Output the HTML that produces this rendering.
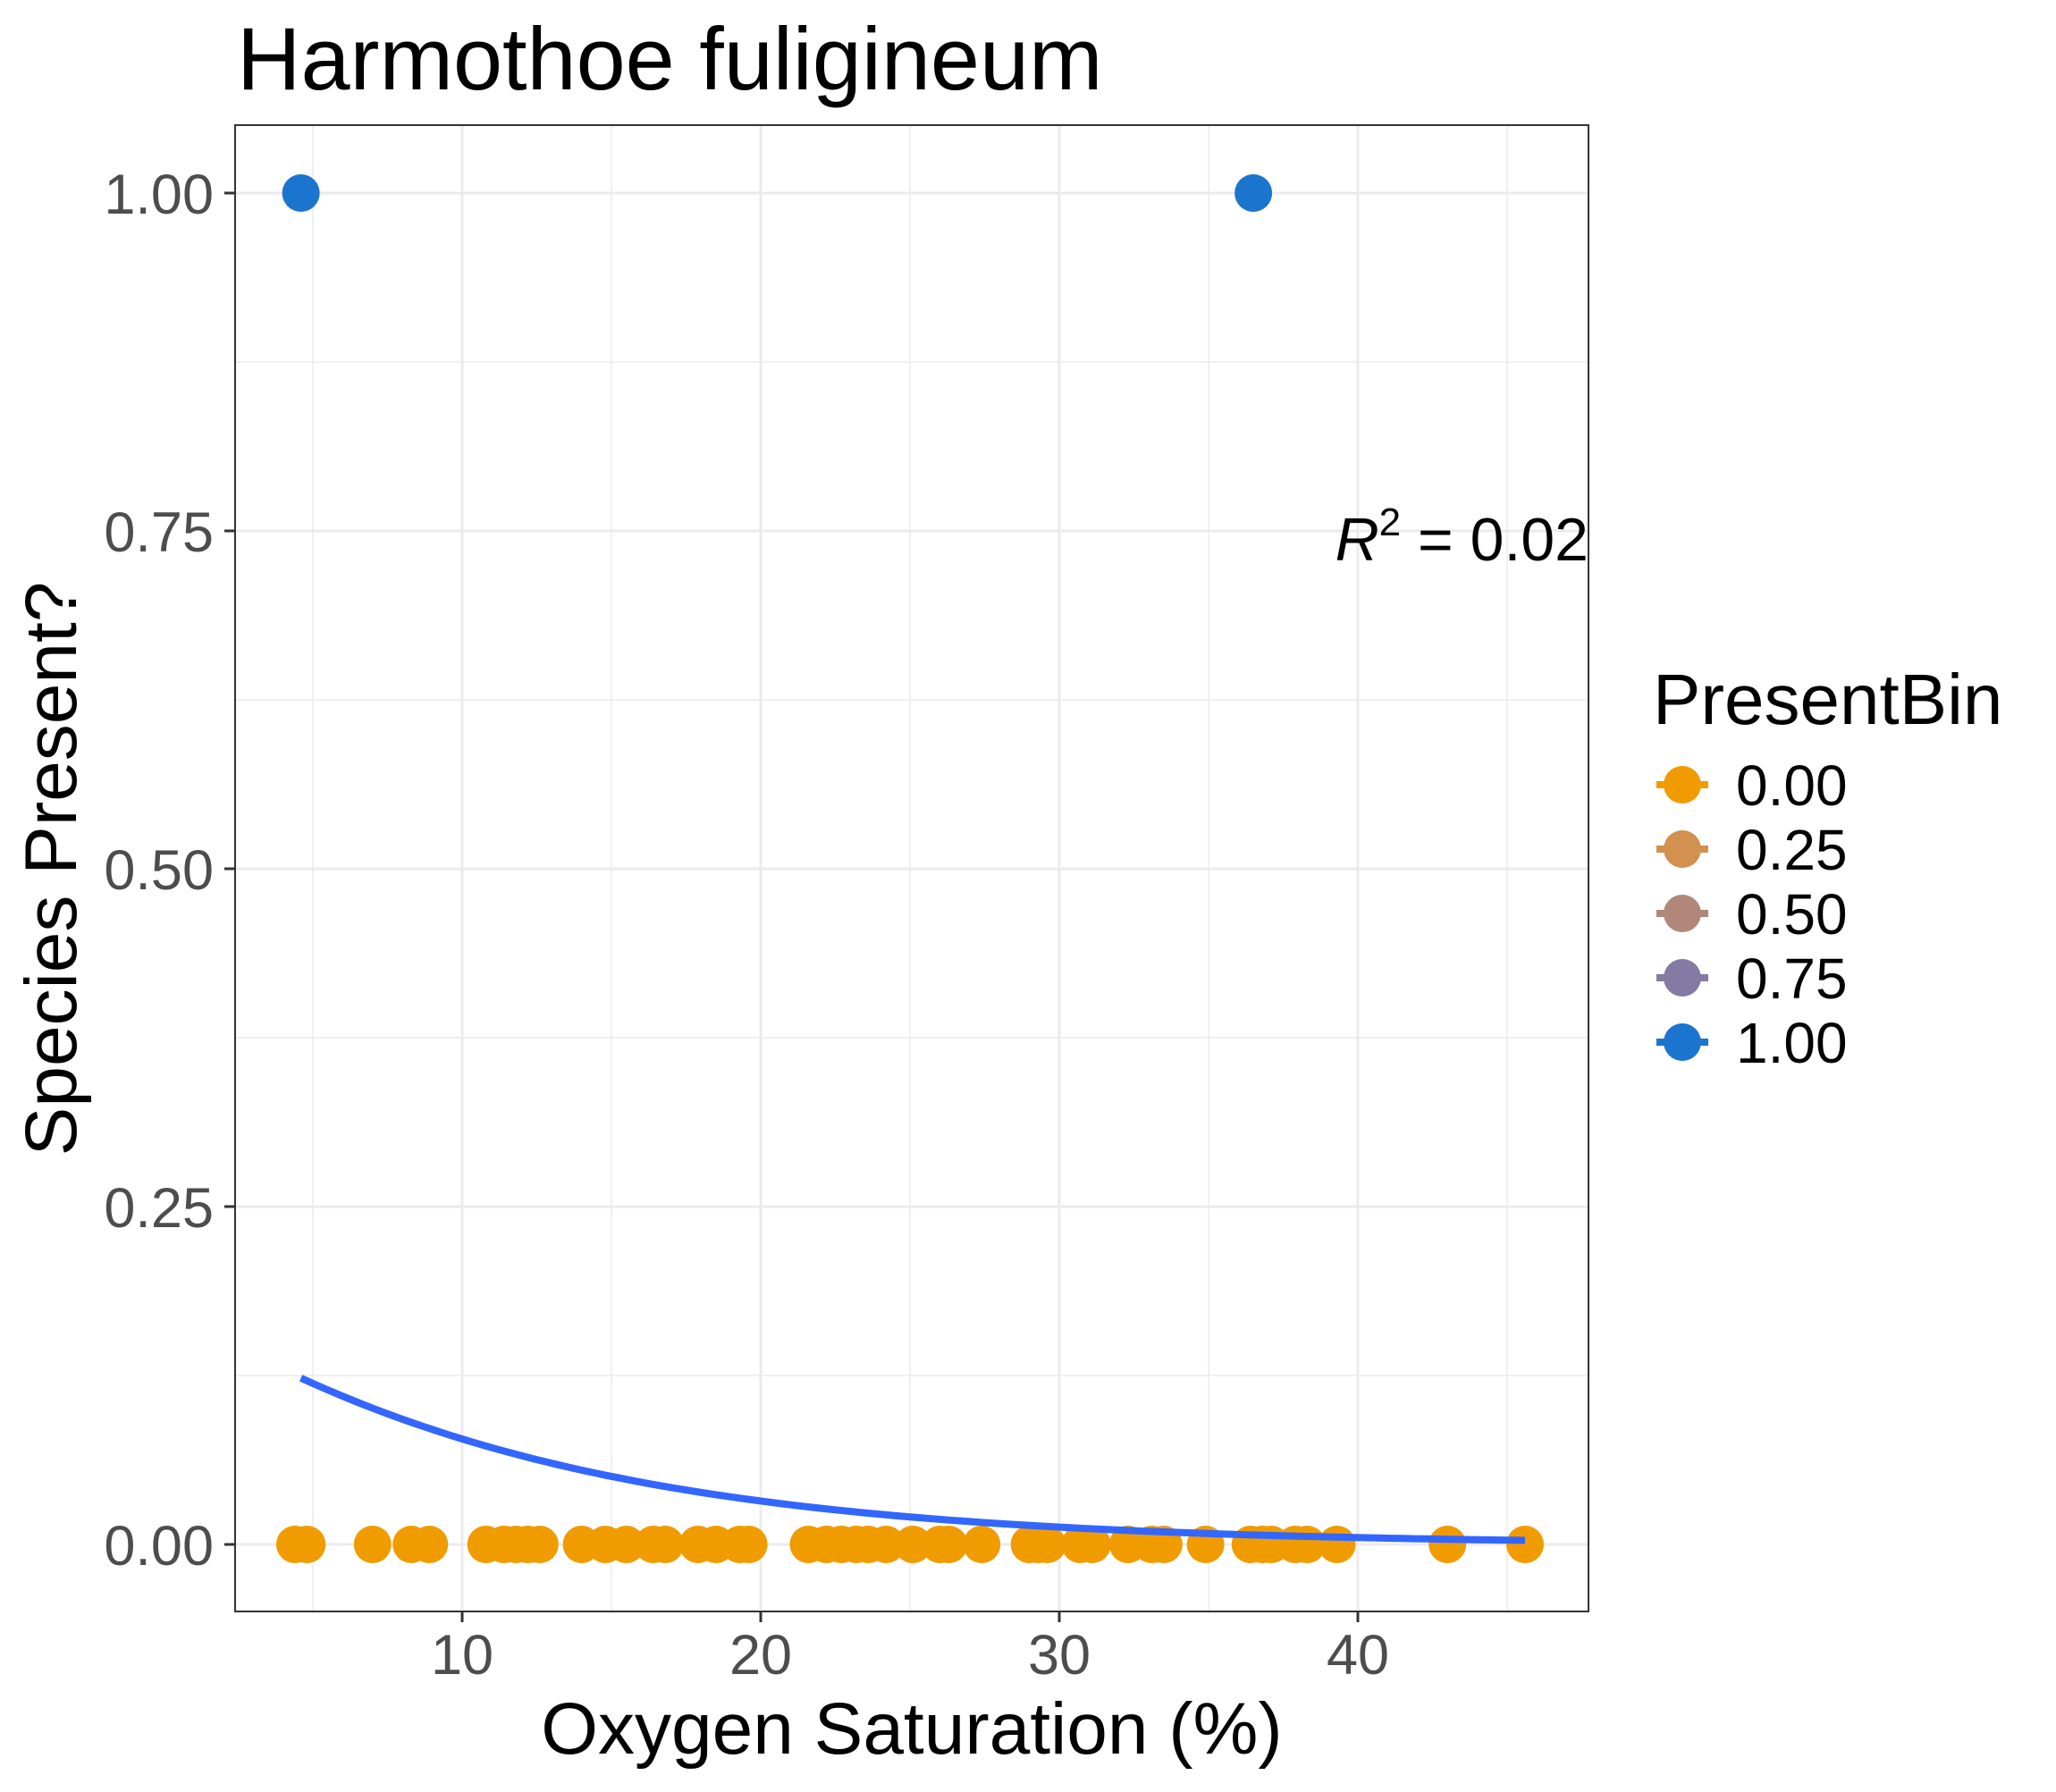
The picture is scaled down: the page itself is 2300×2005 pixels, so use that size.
<!DOCTYPE html>
<html><head><meta charset="utf-8"><style>
html,body{margin:0;padding:0;background:#fff;}
svg text{font-family:"Liberation Sans",Arial,sans-serif;}
</style></head><body>
<svg id="chart" width="2300" height="2000" viewBox="0 0 2300 2000" xmlns="http://www.w3.org/2000/svg">
<rect width="2300" height="2000" fill="#fff"/>
<text x="265" y="100" font-size="99" fill="#000">Harmothoe fuligineum</text>
<g id="grid"></g>
<g id="marks"></g>
<rect x="263" y="140" width="1514" height="1663" fill="none" stroke="#333" stroke-width="2"/>
<g id="axes"></g>
<text x="1777" y="627" font-size="68" text-anchor="end" fill="#000"><tspan font-style="italic">R</tspan><tspan font-size="44" dy="-28">2</tspan><tspan dy="28"> = 0.02</tspan></text>
<text x="1020" y="1962" font-size="82" text-anchor="middle" fill="#000">Oxygen Saturation (%)</text>
<text transform="translate(85,972) rotate(-90)" font-size="82" text-anchor="middle" fill="#000">Species Present?</text>
<g id="legend"></g>
</svg>
<script>
const xTicks = [10, 20, 30, 40];
const xMinor = [5, 15, 25, 35, 45];
const yTicks = [0, 0.25, 0.5, 0.75, 1];
const yTickLabels = ["0.00", "0.25", "0.50", "0.75", "1.00"];
const yMinor = [0.125, 0.375, 0.625, 0.875];
const absentX = [4.4,4.8,7.0,8.3,8.9,10.8,11.4,11.8,12.2,12.6,14.0,14.8,15.5,16.4,16.8,17.9,18.5,19.3,19.6,21.6,22.2,22.7,23.2,23.6,24.2,25.1,26.0,26.3,27.4,29.0,29.3,29.6,30.7,31.1,32.3,33.1,33.5,34.9,36.4,36.8,37.1,37.9,38.3,39.3,43.0,45.6];
const presentX = [4.6, 36.5];
const fitIntercept = [-1.532];
const fitSlope = [-0.0937];
const fitRange = [4.6, 45.6];
const legendLabels = ["0.00","0.25","0.50","0.75","1.00"];
const legendColors = ["#F09C00","#D2914F","#B1877A","#837BA3","#1B75CF"];

const NS = "http://www.w3.org/2000/svg";
const X = v => 517 + (v - 10) * 33.4;
const Y = v => 1728 - v * 1512;
function mk(tag, attrs, parent){const e=document.createElementNS(NS,tag);for(const k in attrs)e.setAttribute(k,attrs[k]);parent.appendChild(e);return e;}
const grid=document.getElementById('grid'),marks=document.getElementById('marks'),axes=document.getElementById('axes'),legend=document.getElementById('legend');

xMinor.forEach(v=>{const l=mk('line',{x1:X(v),x2:X(v),y1:140,y2:1803,stroke:'#EBEBEB','stroke-width':1.5},grid);

});
yMinor.forEach(v=>{const l=mk('line',{x1:263,x2:1777,y1:Y(v),y2:Y(v),stroke:'#EBEBEB','stroke-width':1.5},grid);

});
xTicks.forEach(v=>{const l=mk('line',{x1:X(v),x2:X(v),y1:140,y2:1803,stroke:'#EBEBEB','stroke-width':3},grid);


const t=mk('line',{x1:X(v),x2:X(v),y1:1803,y2:1815,stroke:'#333','stroke-width':3},axes);


const tx=mk('text',{x:X(v),y:1873,'font-size':63,'text-anchor':'middle',fill:'#4D4D4D'},axes);tx.textContent=v;

});
yTicks.forEach((v,i)=>{const l=mk('line',{x1:263,x2:1777,y1:Y(v),y2:Y(v),stroke:'#EBEBEB','stroke-width':3},grid);


const t=mk('line',{x1:251,x2:263,y1:Y(v),y2:Y(v),stroke:'#333','stroke-width':3},axes);


const tx=mk('text',{x:239,y:Y(v)+23,'font-size':63,'text-anchor':'end',fill:'#4D4D4D'},axes);tx.textContent=yTickLabels[i];

});

absentX.forEach(v=>{const c=mk('circle',{cx:X(v),cy:Y(0),r:21,fill:legendColors[0]},marks);

});
presentX.forEach(v=>{const c=mk('circle',{cx:X(v),cy:Y(1),r:21,fill:legendColors[4]},marks);

});
let d='';
for(let i=0;i<=100;i++){const xv=fitRange[0]+(fitRange[1]-fitRange[0])*i/100;const p=1/(1+Math.exp(-(fitIntercept[0]+fitSlope[0]*xv)));d+=(i?'L':'M')+X(xv).toFixed(1)+' '+Y(p).toFixed(1);}
const fit=mk('path',{d:d,fill:'none',stroke:'#3366FF','stroke-width':8},marks);



const lt=mk('text',{x:1849,y:810,'font-size':80,fill:'#000'},legend);lt.textContent='PresentBin';


legendLabels.forEach((lab,i)=>{const cy=878+i*72;const g=mk('g',{},legend);


mk('line',{x1:1853,x2:1911,y1:cy,y2:cy,stroke:legendColors[i],'stroke-width':8},g);
mk('circle',{cx:1882,cy:cy,r:21,fill:legendColors[i]},g);
const t=mk('text',{x:1942,y:cy+23,'font-size':64,fill:'#000'},g);t.textContent=lab;});
</script>
</body></html>
